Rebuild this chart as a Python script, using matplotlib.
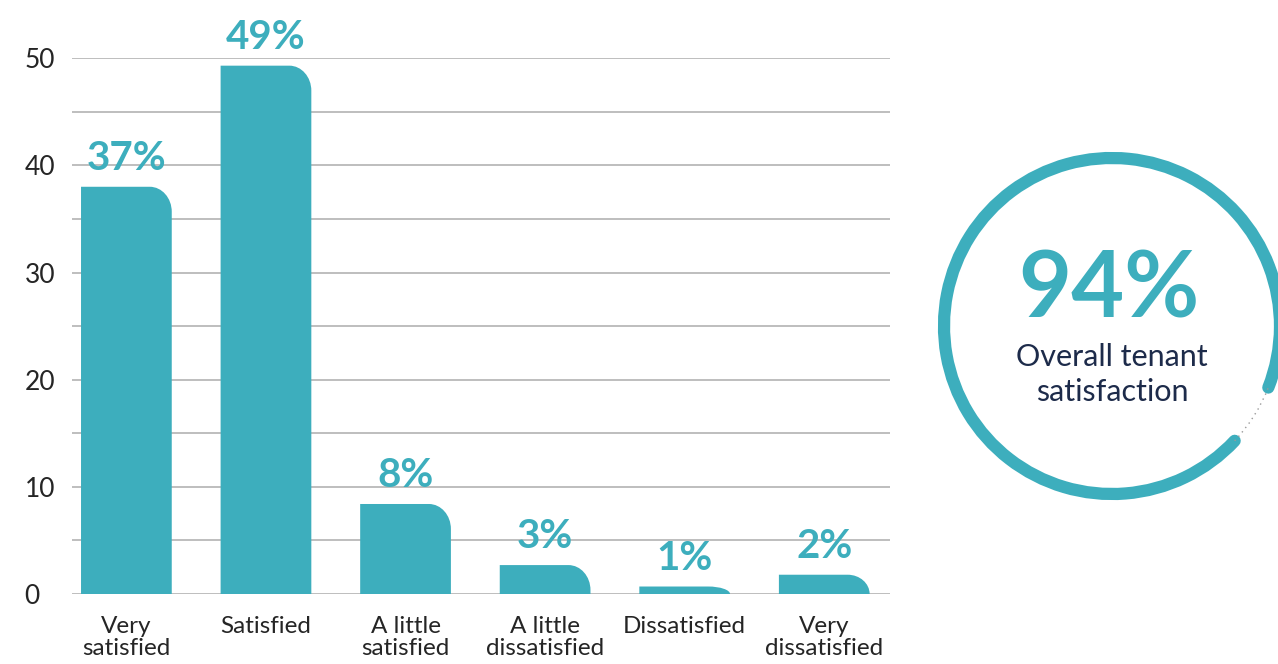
# Tenant satisfaction bar chart with overall satisfaction ring
import numpy as np
import matplotlib.pyplot as plt
from matplotlib.path import Path
from matplotlib.patches import PathPatch, Arc

plt.rcParams['font.family'] = ['Lato', 'DejaVu Sans']

# data
categories = ['Very\nsatisfied', 'Satisfied', 'A little\nsatisfied', 'A little\ndissatisfied',
              'Dissatisfied', 'Very\ndissatisfied']
bar_heights = [38.0, 49.3, 8.4, 2.7, 0.7, 1.8]
pct_labels = ['37%', '49%', '8%', '3%', '1%', '2%']
overall_pct = 94
overall_lines = ['Overall tenant', 'satisfaction']

teal = '#3DAEBD'
navy = '#1D2B4A'
dark = '#252525'

fig = plt.figure(figsize=(12.78, 6.64), dpi=100)
ax = fig.add_axes([0.0563, 0.1054, 0.640, 0.807])

x = np.arange(len(categories))
bars = ax.bar(x, bar_heights, width=0.65, color=teal)
ax.set_xlim(-0.39, 5.47)
ax.set_ylim(0, 50)

# swap plain rectangles for bars with a rounded top-right corner
px_per_x = 0.640 * 1278 / (5.47 + 0.39)
px_per_y = 0.807 * 664 / 50
k = 0.5523
for b in bars:
    x0, w, h = b.get_x(), b.get_width(), b.get_height()
    x1 = x0 + w
    rx = 22 / px_per_x
    ry = min(h, 25 / px_per_y)
    verts = [(x0, 0), (x0, h), (x1 - rx, h),
             (x1 - rx + k * rx, h), (x1, h - ry + k * ry), (x1, h - ry),
             (x1, 0), (x0, 0)]
    codes = [Path.MOVETO, Path.LINETO, Path.LINETO,
             Path.CURVE4, Path.CURVE4, Path.CURVE4,
             Path.LINETO, Path.CLOSEPOLY]
    b.set_visible(False)
    ax.add_patch(PathPatch(Path(verts, codes), facecolor=teal, edgecolor='none', zorder=3))

for xi, h, lab in zip(x, bar_heights, pct_labels):
    ax.annotate(lab, (xi, h), xytext=(0, 12), textcoords='offset points',
                ha='center', va='baseline', fontsize=29, fontweight='bold',
                color=teal, annotation_clip=False)

# grid every 5, labels every 10
ax.set_yticks(np.arange(0, 51, 10))
ax.set_yticks(np.arange(0, 51, 5), minor=True)
ax.grid(True, axis='y', which='both', color='#b3b3b3', linewidth=1.2, zorder=0)
ax.set_axisbelow(True)
ax.tick_params(axis='y', which='both', length=0, pad=34, labelsize=19, labelcolor=dark)
for t in ax.get_yticklabels():
    t.set_horizontalalignment('left')
ax.set_xticks(x)
ax.set_xticklabels(categories, fontsize=17.5, color=dark, linespacing=1.05)
ax.tick_params(axis='x', length=0, pad=16)
for s in ax.spines.values():
    s.set_visible(False)

# ring on the right, drawn in pixel units
ring = fig.add_axes([0, 0, 1, 1], zorder=-1)
ring.set_xlim(0, 1278)
ring.set_ylim(0, 664)
ring.axis('off')
cx, cy, r = 1112, 664 - 326, 168
start = -21.5
end = start + 360 * overall_pct / 100
arc = Arc((cx, cy), 2 * r, 2 * r, theta1=start, theta2=end, color=teal, linewidth=8.8)
arc.set_capstyle('round')
ring.add_patch(arc)
gap = Arc((cx, cy), 2 * r, 2 * r, theta1=end, theta2=start + 360, color='#9a9a9a',
          linewidth=1, linestyle=(0, (1, 3)))
ring.add_patch(gap)
ring.text(cx - 3, 664 - 317, f'{overall_pct}%', ha='center', va='baseline',
          fontsize=66, fontweight='bold', color=teal)
for i, line in enumerate(overall_lines):
    ring.text(cx, 664 - 366 - 35 * i, line, ha='center', va='baseline', fontsize=22,
              color=navy)

fig.savefig('out.png', dpi=100)
